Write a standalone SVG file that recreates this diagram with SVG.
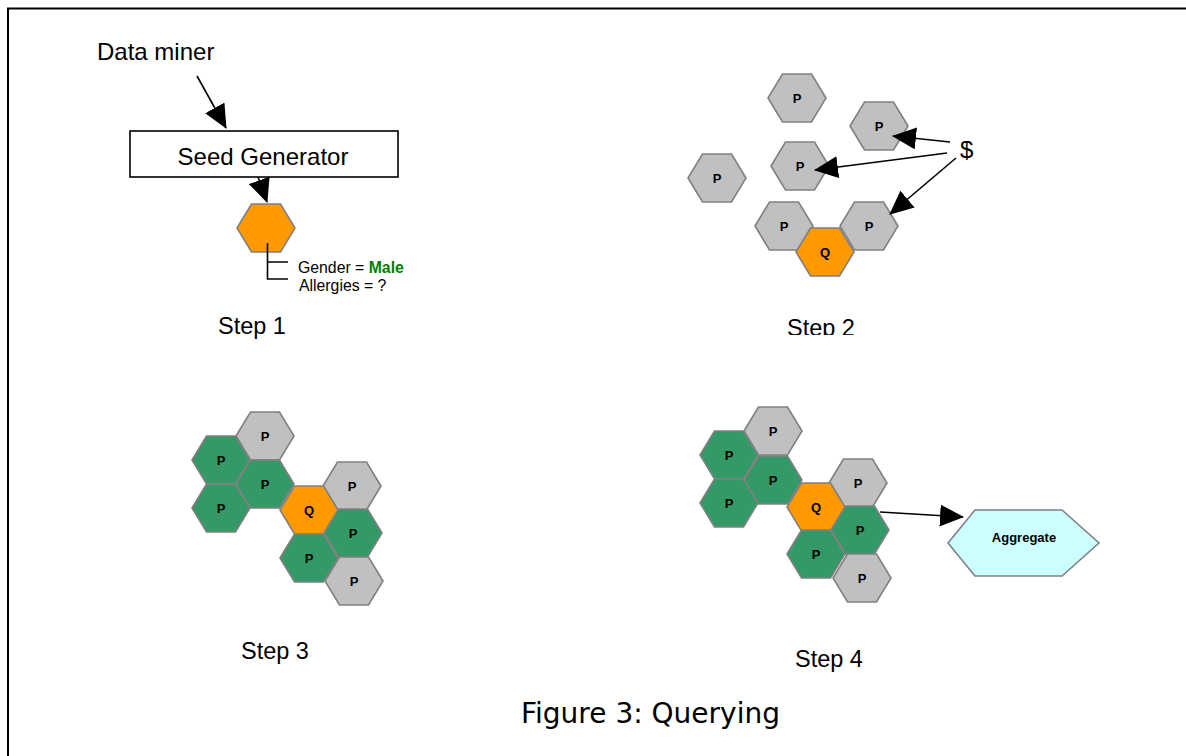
<svg xmlns="http://www.w3.org/2000/svg" xmlns:xlink="http://www.w3.org/1999/xlink" width="1186" height="756" viewBox="0 0 1186 756">
<style>
.hx{stroke:#808080;stroke-width:1.6}
.g{fill:#C0C0C0}
.o{fill:#FF9900}
.gr{fill:#339966}
.lbl{font-family:"Liberation Sans",Arial,sans-serif;font-weight:bold;font-size:13px;text-anchor:middle;fill:#000}
.txt{font-family:"Liberation Sans",Arial,sans-serif;fill:#000}
.big{font-size:23.5px}
.ln{stroke:#000;stroke-width:1.6;fill:none}
</style>
<defs>
<polygon id="hex" points="-29,0 -14.5,-24 14.5,-24 29,0 14.5,24 -14.5,24"/>
<marker id="ah" markerUnits="userSpaceOnUse" markerWidth="24" markerHeight="22" refX="23" refY="11" orient="auto" viewBox="0 0 24 22">
<path d="M0,0 L24,11 L0,22 z" fill="#000"/>
</marker>
<clipPath id="clip2"><rect x="700" y="300" width="200" height="35"/></clipPath>
</defs>
<rect width="1186" height="756" fill="#fff"/>
<path d="M8,756 V8.5 H1186" fill="none" stroke="#000" stroke-width="2"/>

<g id="step1">
<text id="data-miner" class="txt" x="97" y="60" font-size="24">Data miner</text>
<g id="seed-generator">
<rect x="130" y="131" width="268" height="46" fill="#fff" stroke="#000" stroke-width="1.6"/>
<text class="txt" x="263" y="165" font-size="24" text-anchor="middle">Seed Generator</text>
</g>
<g id="seed-hex">
<use xlink:href="#hex" href="#hex" class="hx o" x="266" y="228"/>
</g>
<g id="attributes">
<path class="ln" d="M267.5,243 V279 H288 M267.5,262 H288"/>
<text class="txt" x="298" y="273" font-size="15.8">Gender = <tspan font-weight="bold" fill="#008000">Male</tspan></text>
<text class="txt" x="299" y="291" font-size="15.8">Allergies = ?</text>
</g>
<text class="txt big" x="218" y="334">Step 1</text>
</g>

<g id="step2">
<g id="s2-p1"><use xlink:href="#hex" href="#hex" class="hx g" x="797" y="98"/><text class="lbl" x="797" y="102.5">P</text></g>
<g id="s2-p2"><use xlink:href="#hex" href="#hex" class="hx g" x="879" y="126"/><text class="lbl" x="879" y="130.5">P</text></g>
<g id="s2-p3"><use xlink:href="#hex" href="#hex" class="hx g" x="800" y="166"/><text class="lbl" x="800" y="170.5">P</text></g>
<g id="s2-p4"><use xlink:href="#hex" href="#hex" class="hx g" x="717" y="178"/><text class="lbl" x="717" y="182.5">P</text></g>
<g id="s2-p5"><use xlink:href="#hex" href="#hex" class="hx g" x="784" y="226"/><text class="lbl" x="784" y="230.5">P</text></g>
<g id="s2-p6"><use xlink:href="#hex" href="#hex" class="hx g" x="869" y="226"/><text class="lbl" x="869" y="230.5">P</text></g>
<g id="s2-q"><use xlink:href="#hex" href="#hex" class="hx o" x="825" y="252"/><text class="lbl" x="825" y="256.5">Q</text></g>
<text id="dollar" class="txt" x="960" y="158" font-size="24">$</text>
<text class="txt big" x="787" y="336" clip-path="url(#clip2)">Step 2</text>
</g>

<g id="step3">
<g id="s3-p1"><use xlink:href="#hex" href="#hex" class="hx g" x="265" y="436"/><text class="lbl" x="265" y="440.5">P</text></g>
<g id="s3-p2"><use xlink:href="#hex" href="#hex" class="hx gr" x="221" y="460"/><text class="lbl" x="221" y="464.5">P</text></g>
<g id="s3-p3"><use xlink:href="#hex" href="#hex" class="hx gr" x="221" y="508"/><text class="lbl" x="221" y="512.5">P</text></g>
<g id="s3-p4"><use xlink:href="#hex" href="#hex" class="hx gr" x="265" y="484"/><text class="lbl" x="265" y="488.5">P</text></g>
<g id="s3-p5"><use xlink:href="#hex" href="#hex" class="hx g" x="352" y="486"/><text class="lbl" x="352" y="490.5">P</text></g>
<g id="s3-q"><use xlink:href="#hex" href="#hex" class="hx o" x="309" y="510"/><text class="lbl" x="309" y="514.5">Q</text></g>
<g id="s3-p6"><use xlink:href="#hex" href="#hex" class="hx gr" x="353" y="533"/><text class="lbl" x="353" y="537.5">P</text></g>
<g id="s3-p7"><use xlink:href="#hex" href="#hex" class="hx gr" x="309" y="558"/><text class="lbl" x="309" y="562.5">P</text></g>
<g id="s3-p8"><use xlink:href="#hex" href="#hex" class="hx g" x="354" y="581"/><text class="lbl" x="354" y="585.5">P</text></g>
<text class="txt big" x="241" y="659">Step 3</text>
</g>

<g id="step4">
<g id="s4-p1"><use xlink:href="#hex" href="#hex" class="hx g" x="773" y="431"/><text class="lbl" x="773" y="435.5">P</text></g>
<g id="s4-p2"><use xlink:href="#hex" href="#hex" class="hx gr" x="729" y="455"/><text class="lbl" x="729" y="459.5">P</text></g>
<g id="s4-p3"><use xlink:href="#hex" href="#hex" class="hx gr" x="729" y="503"/><text class="lbl" x="729" y="507.5">P</text></g>
<g id="s4-p4"><use xlink:href="#hex" href="#hex" class="hx gr" x="773" y="480"/><text class="lbl" x="773" y="484.5">P</text></g>
<g id="s4-p5"><use xlink:href="#hex" href="#hex" class="hx g" x="858" y="483"/><text class="lbl" x="858" y="487.5">P</text></g>
<g id="s4-q"><use xlink:href="#hex" href="#hex" class="hx o" x="816" y="507"/><text class="lbl" x="816" y="511.5">Q</text></g>
<g id="s4-p6"><use xlink:href="#hex" href="#hex" class="hx gr" x="860" y="530"/><text class="lbl" x="860" y="534.5">P</text></g>
<g id="s4-p7"><use xlink:href="#hex" href="#hex" class="hx gr" x="816" y="554"/><text class="lbl" x="816" y="558.5">P</text></g>
<g id="s4-p8"><use xlink:href="#hex" href="#hex" class="hx g" x="862" y="578"/><text class="lbl" x="862" y="582.5">P</text></g>
<g id="aggregate">
<polygon class="hx" fill="#CCFFFF" points="948,543 975,510 1062,510 1099,543 1062,576 975,576"/>
<text class="lbl" x="1024" y="542">Aggregate</text>
</g>
<text class="txt big" x="795" y="667">Step 4</text>
</g>

<g id="connectors">
<line class="ln" x1="197" y1="76" x2="226" y2="128" marker-end="url(#ah)"/>
<line class="ln" x1="258" y1="177" x2="267" y2="202" marker-end="url(#ah)"/>
<line class="ln" x1="950" y1="142" x2="893" y2="136" marker-end="url(#ah)"/>
<line class="ln" x1="947" y1="153" x2="815" y2="170" marker-end="url(#ah)"/>
<line class="ln" x1="956" y1="158" x2="890" y2="214" marker-end="url(#ah)"/>
<line class="ln" x1="880" y1="512" x2="963" y2="517" marker-end="url(#ah)"/>
</g>

<text id="caption" x="521" y="723" font-family="DejaVu Sans,Verdana,sans-serif" font-size="28" fill="#000">Figure 3: Querying</text>
</svg>
